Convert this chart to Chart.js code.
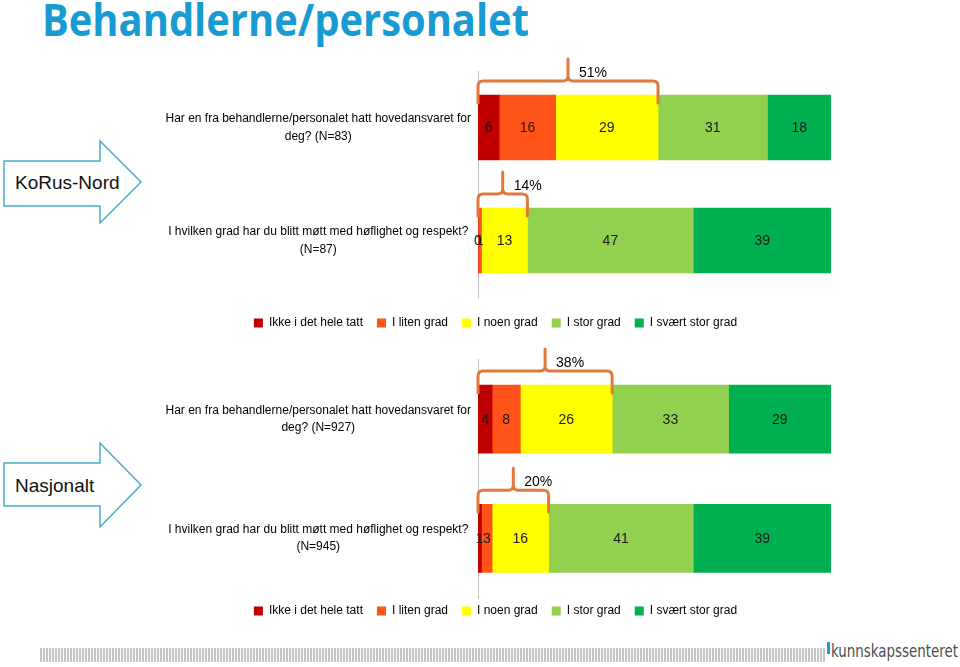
<!DOCTYPE html>
<html>
<head>
<meta charset="utf-8">
<script src="https://cdn.jsdelivr.net/npm/chart.js@4/dist/chart.umd.min.js"></script>
<style>
  html,body{margin:0;padding:0;background:#fff;}
  body{width:960px;height:667px;position:relative;overflow:hidden;font-family:"Liberation Sans",Arial,sans-serif;}
  #title{position:absolute;left:42px;top:-3px;margin:0;font-family:"Open Sans",sans-serif;font-weight:700;font-size:44px;line-height:44px;color:#189ad3;white-space:nowrap;transform-origin:0 0;}
  canvas{position:absolute;}
  #c1{left:160px;top:40px;}
  #c2{left:160px;top:335px;}
  #arrows{position:absolute;left:0;top:0;}
  #stripes{position:absolute;left:40px;top:648px;width:786px;height:14px;background:repeating-linear-gradient(90deg,#c4c4c4 0 2px,#fff 2px 3px);}
  #mark{position:absolute;left:827px;top:642px;width:3px;height:12px;background:#1aa3c8;}
  #brand{position:absolute;left:831px;top:641px;font-family:"DejaVu Sans Condensed","DejaVu Sans",sans-serif;font-size:17px;line-height:20px;color:#4d4d4d;white-space:nowrap;transform-origin:0 0;}
</style>
</head>
<body>
<h1 id="title">Behandlerne/personalet</h1>

<svg id="arrows" width="960" height="667">
  <polygon points="4,161 100,161 100,141 141,182 100,223 100,206 4,206" fill="#fff" stroke="#4bacc6" stroke-width="1.5"/>
  <text x="15" y="189" font-family="Liberation Sans, Arial, sans-serif" font-size="19" fill="#111">KoRus-Nord</text>
  <polygon points="4,463 100,463 100,443 141,485 100,527 100,506 4,506" fill="#fff" stroke="#4bacc6" stroke-width="1.5"/>
  <text x="15" y="492" font-family="Liberation Sans, Arial, sans-serif" font-size="19" fill="#111">Nasjonalt</text>
</svg>

<canvas id="c1" width="674" height="293"></canvas>
<canvas id="c2" width="674" height="299"></canvas>

<div id="stripes"></div>
<div id="mark"></div>
<div id="brand">kunnskapssenteret</div>

<script>
// ---- data ----
const seriesNames = ["Ikke i det hele tatt", "I liten grad", "I noen grad", "I stor grad", "I svært stor grad"];
const seriesColors = ["#c00000", "#ff5319", "#ffff00", "#92d050", "#00b050"];

const korusLabels = [
  ["Har en fra behandlerne/personalet hatt hovedansvaret for", "deg? (N=83)"],
  ["I hvilken grad har du blitt møtt med høflighet og respekt?", "(N=87)"]
];
const korusIkke    = [6, 0];
const korusLiten   = [16, 1];
const korusNoen    = [29, 13];
const korusStor    = [31, 47];
const korusSvaert  = [18, 39];

const nasjonaltLabels = [
  ["Har en fra behandlerne/personalet hatt hovedansvaret for", "deg? (N=927)"],
  ["I hvilken grad har du blitt møtt med høflighet og respekt?", "(N=945)"]
];
const nasjonaltIkke   = [4, 1];
const nasjonaltLiten  = [8, 3];
const nasjonaltNoen   = [26, 16];
const nasjonaltStor   = [33, 41];
const nasjonaltSvaert = [29, 39];

Chart.defaults.font.family = "'Liberation Sans', Arial, sans-serif";
Chart.defaults.color = "#000";

/* values written inside each segment */
const segmentValues = {
  id: "segmentValues",
  afterDatasetsDraw(chart) {
    const ctx = chart.ctx;
    ctx.save();
    ctx.font = "14px 'Liberation Sans', Arial, sans-serif";
    ctx.fillStyle = "#1a1a1a";
    ctx.textAlign = "center";
    ctx.textBaseline = "middle";
    chart.data.datasets.forEach((ds, di) => {
      chart.getDatasetMeta(di).data.forEach((el, i) => {
        ctx.fillText(String(ds.data[i]), (el.x + el.base) / 2, el.y + 1);
      });
    });
    ctx.restore();
  }
};

/* curly bracket over the three lowest categories with their sum */
const lowBracket = {
  id: "lowBracket",
  afterDatasetsDraw(chart) {
    const ctx = chart.ctx, xs = chart.scales.x;
    const ds = chart.data.datasets;
    ctx.save();
    ctx.strokeStyle = "#e07a3c";
    ctx.lineWidth = 3;
    ctx.lineCap = "round";
    ctx.lineJoin = "round";
    chart.getDatasetMeta(0).data.forEach((el, i) => {
      const sum = ds[0].data[i] + ds[1].data[i] + ds[2].data[i];
      const x0 = xs.getPixelForValue(0), x1 = xs.getPixelForValue(sum);
      const top = el.y - el.height / 2;
      const hY = top - 14, peak = hY - 22, low = top + 8, r = 5;
      const xm = (x0 + x1) / 2;
      ctx.beginPath();
      ctx.moveTo(x0, low);
      ctx.lineTo(x0, hY + r);
      ctx.quadraticCurveTo(x0, hY, x0 + r, hY);
      ctx.lineTo(xm - r, hY);
      ctx.quadraticCurveTo(xm, hY, xm, hY - r);
      ctx.lineTo(xm, peak);
      ctx.moveTo(xm, hY - r);
      ctx.quadraticCurveTo(xm, hY, xm + r, hY);
      ctx.lineTo(x1 - r, hY);
      ctx.quadraticCurveTo(x1, hY, x1, hY + r);
      ctx.lineTo(x1, low);
      ctx.stroke();
      ctx.fillStyle = "#000";
      ctx.font = "14px 'Liberation Sans', Arial, sans-serif";
      ctx.textAlign = "left";
      ctx.textBaseline = "middle";
      ctx.fillText(sum + "%", xm + 11, hY - 8);
    });
    ctx.restore();
  }
};

/* moves the legend by options.plugins.legendShift.shift px */
const legendShift = {
  id: "legendShift",
  afterLayout(chart, args, opts) {
    const s = opts.shift || 0;
    chart.legend.top += s;
    chart.legend.bottom += s;
  }
};

function makeChart(id, labels, series, padTop, barThick, shift) {
  new Chart(document.getElementById(id), {
    type: "bar",
    data: {
      labels: labels,
      datasets: series.map((d, k) => ({
        label: seriesNames[k],
        data: d,
        backgroundColor: seriesColors[k],
        borderWidth: 0,
        barThickness: barThick
      }))
    },
    options: {
      indexAxis: "y",
      responsive: false,
      animation: false,
      layout: { padding: { top: padTop, right: 3, left: 0, bottom: 0 } },
      scales: {
        x: { stacked: true, min: 0, max: 100, display: false },
        y: {
          stacked: true,
          grid: { display: false, drawTicks: false },
          border: { display: true, color: "#bfbfbf", width: 1 },
          ticks: { crossAlign: "center", padding: 7, font: { size: 12, lineHeight: 1.45 }, color: "#000" },
          afterFit(scale) { scale.width = 318; }
        }
      },
      plugins: {
        legend: {
          position: "bottom",
          labels: { boxWidth: 9, boxHeight: 9, padding: 14, font: { size: 12 }, color: "#000" }
        },
        tooltip: { enabled: false },
        legendShift: { shift: shift }
      }
    },
    plugins: [segmentValues, lowBracket, legendShift]
  });
}

makeChart("c1", korusLabels, [korusIkke, korusLiten, korusNoen, korusStor, korusSvaert], 31, 65, 6);
makeChart("c2", nasjonaltLabels, [nasjonaltIkke, nasjonaltLiten, nasjonaltNoen, nasjonaltStor, nasjonaltSvaert], 20, 68, -7);

// squeeze title / logo text to the reference width
function fitWidth(id, w) {
  const el = document.getElementById(id);
  const cur = el.getBoundingClientRect().width;
  if (cur > 0) el.style.transform = "scaleX(" + (w / cur) + ")";
}
fitWidth("title", 487);
fitWidth("brand", 127);
</script>
</body>
</html>
